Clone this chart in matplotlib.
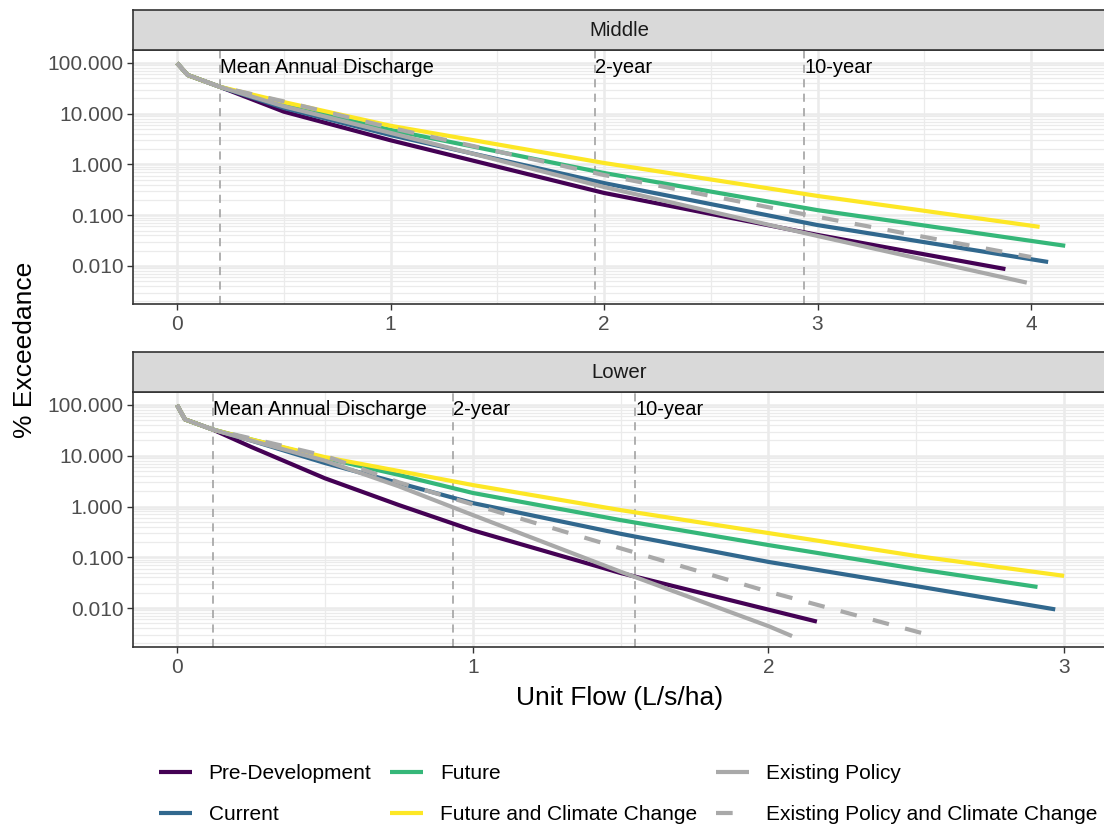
import matplotlib
matplotlib.use("Agg")
import matplotlib.pyplot as plt
import numpy as np
from matplotlib.ticker import LogLocator, FixedLocator, NullFormatter, FuncFormatter
from matplotlib.lines import Line2D

plt.rcParams['font.family'] = ['Liberation Sans', 'DejaVu Sans']

series_names = ["Pre-Development", "Current", "Future", "Future and Climate Change",
                "Existing Policy", "Existing Policy and Climate Change"]
colors = ["#440154", "#31688E", "#35B779", "#FDE725", "#A9A9A9", "#A9A9A9"]

# ---- Middle reach: unit flow (x) vs % exceedance (y) ----
mid_pre_x = [0, 0.05, 0.2, 0.5, 1.0, 2.0, 3.0, 3.88]
mid_pre_y = [100, 58, 34, 11, 3.0, 0.275, 0.041, 0.0087]
mid_cur_x = [0, 0.05, 0.2, 0.5, 1.0, 2.0, 3.0, 4.08]
mid_cur_y = [100, 58, 34, 13, 3.8, 0.43, 0.064, 0.012]
mid_fut_x = [0, 0.05, 0.2, 0.5, 1.0, 2.0, 3.0, 4.16]
mid_fut_y = [100, 58, 34, 15, 4.8, 0.68, 0.126, 0.025]
mid_fcc_x = [0, 0.05, 0.2, 0.5, 1.0, 2.0, 3.0, 4.04]
mid_fcc_y = [100, 58, 34, 17, 5.8, 1.07, 0.24, 0.059]
mid_ep_x = [0, 0.05, 0.2, 0.5, 1.0, 2.0, 3.0, 3.98]
mid_ep_y = [100, 58, 34, 14, 4.2, 0.36, 0.039, 0.0047]
mid_epcc_x = [0, 0.05, 0.2, 0.5, 1.0, 2.0, 3.0, 4.0]
mid_epcc_y = [100, 58, 34, 17.5, 5.3, 0.62, 0.093, 0.015]

# ---- Lower reach ----
low_pre_x = [0, 0.027, 0.12, 0.25, 0.5, 0.75, 1.0, 1.5, 2.0, 2.164]
low_pre_y = [100, 52, 33, 15, 3.6, 1.07, 0.34, 0.049, 0.0093, 0.0054]
low_cur_x = [0, 0.027, 0.12, 0.25, 0.5, 0.75, 1.0, 1.5, 2.0, 2.5, 2.97]
low_cur_y = [100, 52, 33, 20, 7.2, 2.9, 1.17, 0.29, 0.081, 0.027, 0.0094]
low_fut_x = [0, 0.027, 0.12, 0.25, 0.5, 0.75, 1.0, 1.5, 2.0, 2.5, 2.91]
low_fut_y = [100, 52, 33, 21, 9.0, 4.2, 1.85, 0.54, 0.174, 0.059, 0.026]
low_fcc_x = [0, 0.027, 0.12, 0.25, 0.5, 0.75, 1.0, 1.5, 2.0, 2.5, 3.0]
low_fcc_y = [100, 52, 33, 21, 9.4, 5.0, 2.65, 0.85, 0.30, 0.106, 0.043]
low_ep_x = [0, 0.027, 0.12, 0.25, 0.5, 0.75, 1.0, 1.5, 2.0, 2.08]
low_ep_y = [100, 52, 33, 20, 8.0, 2.5, 0.68, 0.052, 0.0044, 0.0028]
low_epcc_x = [0, 0.027, 0.12, 0.25, 0.5, 0.75, 1.0, 1.5, 2.0, 2.557]
low_epcc_y = [100, 52, 33, 22, 10.0, 3.0, 1.1, 0.15, 0.021, 0.0028]

# reference flows (vertical lines)
ref_labels = ["Mean Annual Discharge", "2-year", "10-year"]
mid_ref_x = [0.20, 1.958, 2.937]
low_ref_x = [0.122, 0.933, 1.549]

y_ticks = [100, 10, 1, 0.1, 0.01]
panels = [
    dict(title="Middle",
         xs=[mid_pre_x, mid_cur_x, mid_fut_x, mid_fcc_x, mid_ep_x, mid_epcc_x],
         ys=[mid_pre_y, mid_cur_y, mid_fut_y, mid_fcc_y, mid_ep_y, mid_epcc_y],
         refs=mid_ref_x, xlim=(-0.206, 4.351), xticks=[0, 1, 2, 3, 4],
         ylim=(10 ** -2.749, 10 ** 2.256), top=50, bottom=304),
    dict(title="Lower",
         xs=[low_pre_x, low_cur_x, low_fut_x, low_fcc_x, low_ep_x, low_epcc_x],
         ys=[low_pre_y, low_cur_y, low_fut_y, low_fcc_y, low_ep_y, low_epcc_y],
         refs=low_ref_x, xlim=(-0.1488, 3.1417), xticks=[0, 1, 2, 3],
         ylim=(10 ** -2.768, 10 ** 2.256), top=392, bottom=647),
]

W, H = 1104, 827
fig = plt.figure(figsize=(W / 100, H / 100), dpi=100)
left_px, right_px = 133, 1106
strip_h = 40
border = "#333333"
lw_data = 3.0

for p in panels:
    ax = fig.add_axes([left_px / W, 1 - p["bottom"] / H, (right_px - left_px) / W,
                       (p["bottom"] - p["top"]) / H])
    ax.set_yscale("log")
    ax.set_xlim(*p["xlim"])
    ax.set_ylim(*p["ylim"])
    ax.yaxis.set_major_locator(FixedLocator(y_ticks))
    ax.yaxis.set_major_formatter(FuncFormatter(lambda v, pos: f"{v:.3f}"))
    ax.yaxis.set_minor_locator(LogLocator(base=10, subs=np.arange(2, 10)))
    ax.yaxis.set_minor_formatter(NullFormatter())
    ax.xaxis.set_major_locator(FixedLocator(p["xticks"]))
    ax.xaxis.set_minor_locator(FixedLocator(np.arange(-0.5, 5, 1.0)))
    ax.grid(True, which="major", color="#EBEBEB", lw=1.8, zorder=0)
    ax.grid(True, which="minor", color="#EBEBEB", lw=0.9, zorder=0)
    ax.set_axisbelow(True)
    ax.tick_params(axis="both", which="major", length=4, width=1.0, color=border,
                   labelsize=15, labelcolor="#4D4D4D", pad=3)
    ax.tick_params(axis="x", which="major", pad=4)
    ax.tick_params(axis="y", which="minor", length=0)
    ax.tick_params(axis="x", which="minor", length=0)
    for s in ax.spines.values():
        s.set_color(border)
        s.set_linewidth(1.2)

    for xr, lab in zip(p["refs"], ref_labels):
        ax.axvline(xr, color="#A9A9A9", lw=1.3, dashes=(4.5, 3.5), zorder=1)
        ax.text(xr, 10 ** 1.92, lab, fontsize=14.5, color="black", ha="left",
                va="center", zorder=5)

    for i, (xv, yv) in enumerate(zip(p["xs"], p["ys"])):
        kw = dict(color=colors[i], lw=lw_data, solid_capstyle="butt", zorder=3)
        if i == 5:
            kw["dashes"] = (4, 4)
        ax.plot(xv, yv, **kw)

    sax = fig.add_axes([left_px / W, 1 - p["top"] / H, (right_px - left_px) / W,
                        strip_h / H])
    sax.set_facecolor("#D9D9D9")
    sax.set_xticks([])
    sax.set_yticks([])
    for s in sax.spines.values():
        s.set_color(border)
        s.set_linewidth(1.2)
    sax.text(0.5, 0.5, p["title"], transform=sax.transAxes, ha="center",
             va="center", fontsize=14.7, color="#1A1A1A")

fig.text(25 / W, 1 - 350 / H, "% Exceedance", rotation=90, ha="center",
         va="center", fontsize=19)
fig.text(620 / W, 1 - 698 / H, "Unit Flow (L/s/ha)", ha="center", va="center",
         fontsize=19)

# legend
handles = []
for i, name in enumerate(series_names):
    if i == 5:
        h = Line2D([0], [0], color=colors[i], lw=lw_data, dashes=(4, 4),
                   dash_capstyle="butt")
    else:
        h = Line2D([0], [0], color=colors[i], lw=lw_data, solid_capstyle="butt")
    handles.append(h)
leg = fig.legend(handles, series_names, ncol=3, loc="center",
                 bbox_to_anchor=(628 / W, 1 - 794 / H), frameon=False,
                 fontsize=15, handlelength=1.6, handletextpad=0.8,
                 columnspacing=0.9, labelspacing=1.05, borderpad=0.2)

fig.savefig("out.png", dpi=100)
